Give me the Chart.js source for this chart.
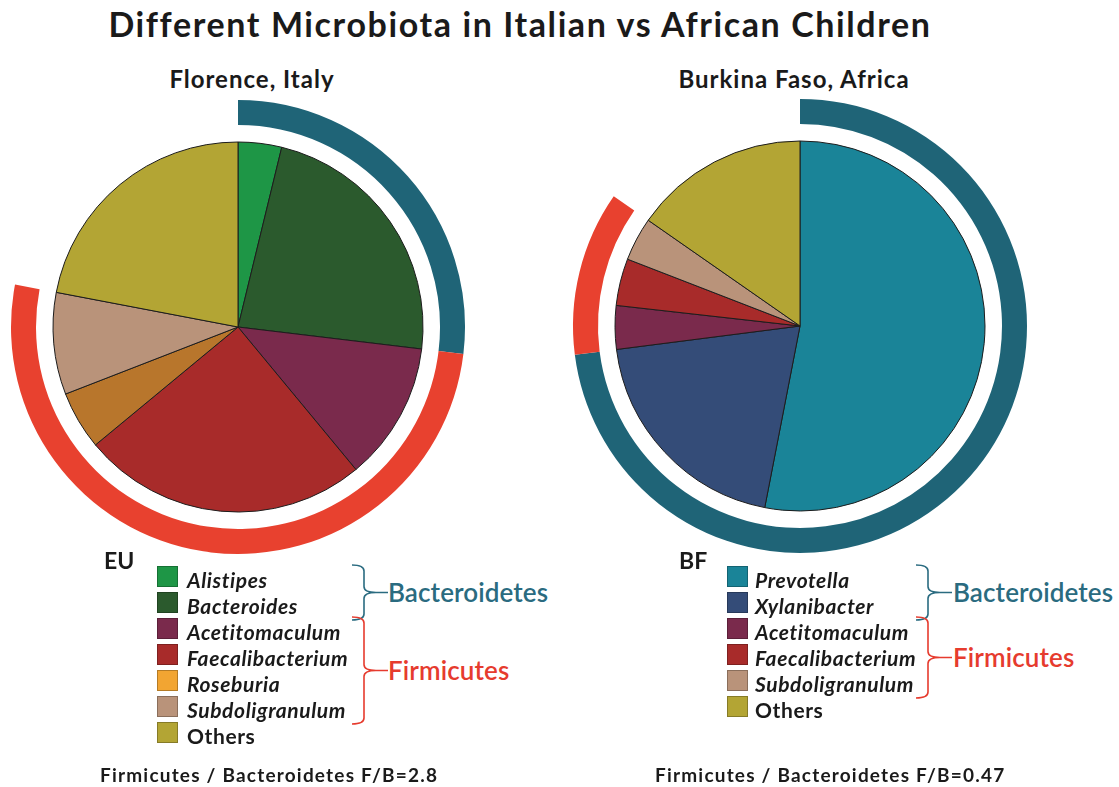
<!DOCTYPE html>
<html>
<head>
<meta charset="utf-8">
<script src="https://cdn.jsdelivr.net/npm/chart.js@4.4.0/dist/chart.umd.min.js"></script>
<style>
  html, body { margin: 0; padding: 0; background: #fff; }
  #page { position: relative; width: 1119px; height: 787px; overflow: hidden; font-family: Lato, "Open Sans", sans-serif; color: #1a1a1a; }
  .abs { position: absolute; white-space: nowrap; }
  #title { left: 0; width: 1040px; top: 3px; text-align: center; font-size: 34px; font-weight: 700; letter-spacing: 1.6px; }
  .sub { font-size: 24px; font-weight: 700; top: 64px; width: 400px; text-align: center; letter-spacing: 1px; }
  .code { font-size: 23px; font-weight: 700; top: 546px; }
  .sw { width: 21px; height: 21px; box-sizing: border-box; border: 1px solid rgba(0,0,0,.25); }
  .lbl { font-size: 21px; font-weight: 700; font-style: italic; line-height: 26px; letter-spacing: 0.6px; }
  .lbl.plain { font-style: normal; }
  .phy { font-size: 26px; font-weight: 600; line-height: 30px; letter-spacing: 0.1px; }
  .ratio { font-size: 19px; font-weight: 700; top: 763px; letter-spacing: 1.2px; }
  canvas { position: absolute; }
</style>
</head>
<body>
<div id="page">
  <div id="title" class="abs">Different Microbiota in Italian vs African Children</div>
  <div class="abs sub" style="left:52px">Florence, Italy</div>
  <div class="abs sub" style="left:594px">Burkina Faso, Africa</div>
  <canvas id="pie-eu" width="470" height="470" style="left:3px;top:92px"></canvas>
  <canvas id="pie-bf" width="470" height="470" style="left:565px;top:91px"></canvas>
  <div class="abs code" style="left:104px">EU</div>
  <div class="abs code" style="left:679px">BF</div>
  <div id="legend"></div>
  <svg id="braces" class="abs" width="1119" height="787" style="left:0;top:0"></svg>
  <div class="abs ratio" style="left:100px">Firmicutes / Bacteroidetes F/B=2.8</div>
  <div class="abs ratio" style="left:655px">Firmicutes / Bacteroidetes F/B=0.47</div>
</div>
<script>
  // ── Data (percent of reads) ─────────────────────────────────────
  const euGenera = ["Alistipes", "Bacteroides", "Acetitomaculum", "Faecalibacterium", "Roseburia", "Subdoligranulum", "Others"];
  const euValues = [3.8, 23.1, 12.1, 25.0, 5.1, 8.9, 22.0];
  const euPhylum = ["Bacteroidetes", "Bacteroidetes", "Firmicutes", "Firmicutes", "Firmicutes", "Firmicutes", null];

  const bfGenera = ["Prevotella", "Xylanibacter", "Acetitomaculum", "Faecalibacterium", "Subdoligranulum", "Others"];
  const bfValues = [53.0, 19.9, 3.8, 4.1, 3.8, 15.3];
  const bfPhylum = ["Bacteroidetes", "Bacteroidetes", "Firmicutes", "Firmicutes", "Firmicutes", null];

  const phyla = ["Bacteroidetes", "Firmicutes"];

  // ── Colours ─────────────────────────────────────────────────────
  const genusColor = {
    Alistipes: "#1e9646",
    Bacteroides: "#2b5a2d",
    Acetitomaculum: "#7a2a4c",
    Faecalibacterium: "#a82b2a",
    Roseburia: "#b8762c",
    Subdoligranulum: "#b9937a",
    Others: "#b3a534",
    Prevotella: "#1a8498",
    Xylanibacter: "#344c78",
  };
  const legendOverride = { Roseburia: "#f2a532" };
  const phylumRing  = { Bacteroidetes: "#1f6477", Firmicutes: "#e8412f" };
  const phylumText  = { Bacteroidetes: "#2a6b80", Firmicutes: "#e63b2e" };

  // ring = 25px, white gap = 17px, pie = 185px
  const ringW = 25, gapW = 17, pieR = 185;

  function ringData(values, phylum) {
    const sums = phyla.map(p => values.reduce((s, v, i) => s + (phylum[i] === p ? v : 0), 0));
    const rest = values.reduce((s, v, i) => s + (phylum[i] ? 0 : v), 0);
    return { data: [...sums, rest], colors: [...phyla.map(p => phylumRing[p]), "rgba(0,0,0,0)"] };
  }

  function renderPie(id, genera, values, phylum) {
    const ring = ringData(values, phylum);
    new Chart(document.getElementById(id), {
      type: "pie",
      data: {
        labels: genera,
        datasets: [
          { data: ring.data, backgroundColor: ring.colors, borderWidth: 0, weight: ringW },
          { data: [1], backgroundColor: "rgba(0,0,0,0)", borderWidth: 0, weight: gapW },
          {
            data: values,
            backgroundColor: genera.map(g => genusColor[g]),
            borderColor: "#1c1c1c",
            borderWidth: 1,
            weight: pieR,
          },
        ],
      },
      options: {
        responsive: false,
        animation: false,
        radius: ringW + gapW + pieR,
        layout: { padding: 0 },
        plugins: { legend: { display: false }, tooltip: { enabled: false } },
      },
    });
  }

  renderPie("pie-eu", euGenera, euValues, euPhylum);
  renderPie("pie-bf", bfGenera, bfValues, bfPhylum);

  // ── Legends with phylum braces ──────────────────────────────────
  const rowTop = 566, rowH = 26;
  const legendEl = document.getElementById("legend");
  const svg = document.getElementById("braces");

  function brace(x0, x1, y1, y2, ym, color) {
    const xm = (x0 + x1) / 2, r = 6;
    const d = `M${x0},${y1} Q${xm},${y1} ${xm},${y1 + r} L${xm},${ym - r} Q${xm},${ym} ${x1},${ym} ` +
              `Q${xm},${ym} ${xm},${ym + r} L${xm},${y2 - r} Q${xm},${y2} ${x0},${y2} M${x1},${ym} L${x1 + 12},${ym}`;
    svg.insertAdjacentHTML("beforeend", `<path d="${d}" fill="none" stroke="${color}" stroke-width="1.6"/>`);
  }

  function buildLegend(genera, phylum, swX, txtX, braceX, labelX) {
    genera.forEach((g, i) => {
      const y = rowTop + i * rowH;
      const col = legendOverride[g] || genusColor[g];
      legendEl.insertAdjacentHTML("beforeend",
        `<div class="abs sw" style="left:${swX}px;top:${y}px;background:${col}"></div>` +
        `<div class="abs lbl${g === "Others" ? " plain" : ""}" style="left:${txtX}px;top:${y + 1}px">${g}</div>`);
    });
    phyla.forEach(p => {
      const idx = phylum.map((q, i) => q === p ? i : -1).filter(i => i >= 0);
      const y1 = rowTop + idx[0] * rowH - 1;
      const y2 = rowTop + (idx[idx.length - 1] + 1) * rowH + 2;
      const ym = (y1 + y2) / 2;
      brace(braceX, braceX + 24, y1, y2, ym, phylumText[p]);
      legendEl.insertAdjacentHTML("beforeend",
        `<div class="abs phy" style="left:${labelX}px;top:${ym - 16}px;color:${phylumText[p]}">${p}</div>`);
    });
  }

  buildLegend(euGenera, euPhylum, 157, 187, 352, 388);
  buildLegend(bfGenera, bfPhylum, 727, 755, 916, 953);
</script>
</body>
</html>
